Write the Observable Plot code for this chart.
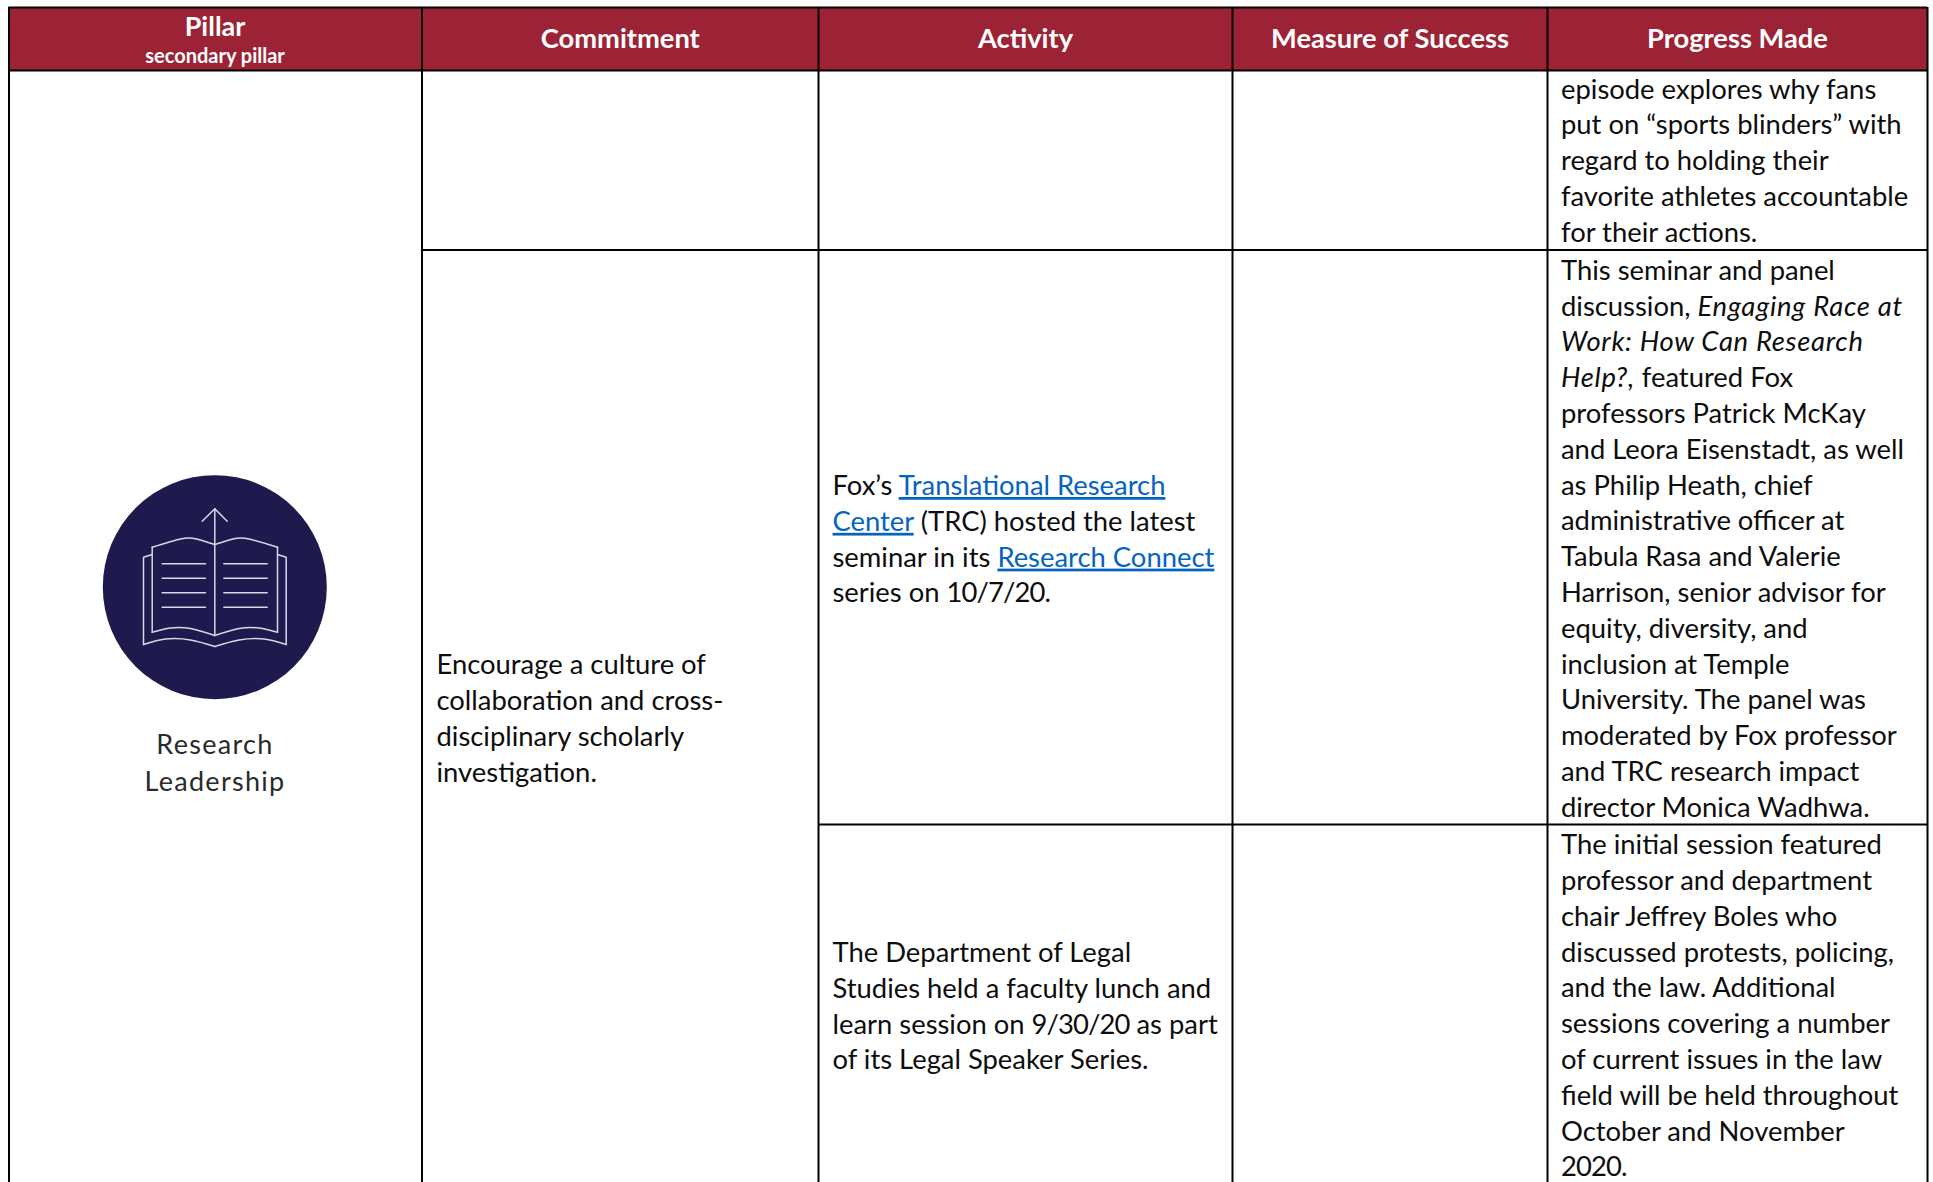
<!DOCTYPE html>
<html><head><meta charset="utf-8">
<style>html,body{margin:0;padding:0;background:#fff}svg{display:block}</style>
<script src="https://cdn.jsdelivr.net/npm/d3@7"></script>
<script src="https://cdn.jsdelivr.net/npm/@observablehq/plot@0.6"></script>
</head><body><div id="chart"></div>
<script>
const headers = ["Commitment","Activity","Measure of Success","Progress Made"];
const pillarTitle = "Pillar";
const pillarSub = "secondary pillar";
const pillarName = ["Research","Leadership"];
const commitmentLines = ["Encourage a culture of","collaboration and cross-","disciplinary scholarly","investigation."];
const activity1 = ["Fox’s [Translational Research]","[Center] (TRC) hosted the latest","seminar in its [Research Connect]","series on ~10/7/20~."];
const activity2 = ["The Department of Legal","Studies held a faculty lunch and","learn session on ~9/30/20~ as part","of its Legal Speaker Series."];
const progress0 = ["episode explores why fans","put on “sports blinders” with","regard to holding their","favorite athletes accountable","for their actions."];
const progress1 = ["This seminar and panel","discussion, *Engaging Race at*","*Work: How Can Research*","*Help?,* featured Fox","professors Patrick McKay","and Leora Eisenstadt, as well","as Philip Heath, chief","administrative officer at","Tabula Rasa and Valerie","Harrison, senior advisor for","equity, diversity, and","inclusion at Temple","University. The panel was","moderated by Fox professor","and TRC research impact","director Monica Wadhwa."];
const progress2 = ["The initial session featured","professor and department","chair Jeffrey Boles who","discussed protests, policing,","and the law. Additional","sessions covering a number","of current issues in the law","field will be held throughout","October and November","~2020~."];

const W = 1933, H = 1182, FONT = "Lato, Carlito, Calibri, sans-serif", FS = 27.4, LH = 35.8;
const colX = [8.5,421.5,818,1232,1547,1927];
const block = (lines,x,y0) => lines.map((t,i)=>({t,x,y:y0+i*LH}));
const body = [
  ...block(commitmentLines,436,673.8),
  ...block(activity1,832,494.5),
  ...block(activity2,832,961.5),
  ...block(progress0,1560.5,98),
  ...block(progress1,1560.5,279.3),
  ...block(progress2,1560.5,853.7)
];
const heads = headers.map((t,i)=>({t,x:(colX[i+1]+colX[i+2])/2,y:47.7}));
const vRules = colX.map(x=>({x,y1:7,y2:H}));
const hRules = [{y:7,x1:8.5,x2:1927},{y:70,x1:8.5,x2:1927},{y:249.5,x1:421.5,x2:1927},{y:824,x1:818,x2:1927}];

const iconStroke = "#d9d7e6", iconFill = "#1e1a4d";
const iconPaths = [
 {c:"linear",p:[[214.3,635],[214.3,508.3]]},
 {c:"linear",p:[[201.7,520.7],[214.3,508.3],[226.7,520.7]]},
 {c:"natural",p:[[151.7,546.7],[180,538.5],[195,538.2],[214.3,544]]},
 {c:"natural",p:[[277,546.7],[248.6,538.5],[233.6,538.2],[214.3,544]]},
 {c:"linear",p:[[151.7,546.7],[151.7,631.7]]},
 {c:"linear",p:[[277,546.7],[277,631.7]]},
 {c:"natural",p:[[151.7,631.7],[170,627.5],[190,628],[214.3,635]]},
 {c:"natural",p:[[277,631.7],[258.6,627.5],[238.6,628],[214.3,635]]},
 {c:"linear",p:[[151.7,554],[143,556.7],[143,644]]},
 {c:"linear",p:[[277,554],[285.7,556.7],[285.7,644]]},
 {c:"natural",p:[[143,644],[165,638.5],[190,639.5],[214.3,646]]},
 {c:"natural",p:[[285.7,644],[263.6,638.5],[238.6,639.5],[214.3,646]]},
 ...[563.3,577.7,592.3,606.7].flatMap(y=>[{c:"linear",p:[[161.7,y],[205,y]]},{c:"linear",p:[[223.3,y],[266.7,y]]}])
];

const txt = (data,o,fs=FS) => Plot.text(data,{x:"x",y:"y",text:"t",fontFamily:FONT,fontSize:fs,lineAnchor:"middle",dy:-0.32*fs,...o});

const plot = Plot.plot({
  width:W,height:H,margin:0,
  x:{domain:[0,W],range:[0,W],axis:null},
  y:{domain:[0,H],range:[0,H],axis:null},
  style:{background:"#fff",fontFamily:FONT},
  marks:[
    Plot.rect([{x1:8.5,x2:1927,y1:7,y2:70}],{x1:"x1",x2:"x2",y1:"y1",y2:"y2",fill:"#9b2335"}),
    Plot.ruleX(vRules,{x:"x",y1:"y1",y2:"y2",stroke:"#000",strokeWidth:2}),
    Plot.ruleY(hRules,{y:"y",x1:"x1",x2:"x2",stroke:"#000",strokeWidth:2}),
    txt(heads,{fill:"#fff",fontWeight:700,textAnchor:"middle"},27.3),
    txt([{t:pillarTitle,x:214.5,y:35}],{fill:"#fff",fontWeight:700,textAnchor:"middle"},27),
    txt([{t:pillarSub,x:214.5,y:62.7}],{fill:"#fff",fontWeight:700,textAnchor:"middle"},20),
    txt(body,{fill:"#0d0d0d",textAnchor:"start"}),
    Plot.dot([{x:214.3,y:586.7}],{x:"x",y:"y",r:112,fill:iconFill,stroke:null}),
    ...iconPaths.map(d=>Plot.line(d.p,{x:q=>q[0],y:q=>q[1],stroke:iconStroke,strokeWidth:1.5,curve:d.c})),
    txt(pillarName.map((t,i)=>({t,x:214.5,y:753.5+i*37})),{fill:"#2a2a2a",textAnchor:"middle"},27)
  ]
});
document.getElementById("chart").append(plot);
// inline styling inside a line: *italic*, [link], ~narrow digits~
plot.querySelectorAll("text").forEach(el=>{
  const s=el.textContent;
  if(pillarName.includes(s)){el.setAttribute("letter-spacing","1.3");return;}
  if(!/[*\[~]/.test(s))return;
  el.textContent="";
  s.split(/(\*[^*]+\*|\[[^\]]+\]|~[^~]+~)/).filter(Boolean).forEach(r=>{
    const ts=document.createElementNS("http://www.w3.org/2000/svg","tspan");
    if(r[0]==="*"){ts.textContent=r.slice(1,-1);ts.setAttribute("font-style","italic");ts.setAttribute("letter-spacing","0.7");}
    else if(r[0]==="["){ts.textContent=r.slice(1,-1);ts.setAttribute("fill","#0563c1");ts.style.textDecoration="underline";ts.style.textDecorationThickness="2px";}
    else if(r[0]==="~"){ts.textContent=r.slice(1,-1);ts.setAttribute("letter-spacing","-0.9");}
    else ts.textContent=r;
    el.append(ts);
  });
});
</script></body></html>
